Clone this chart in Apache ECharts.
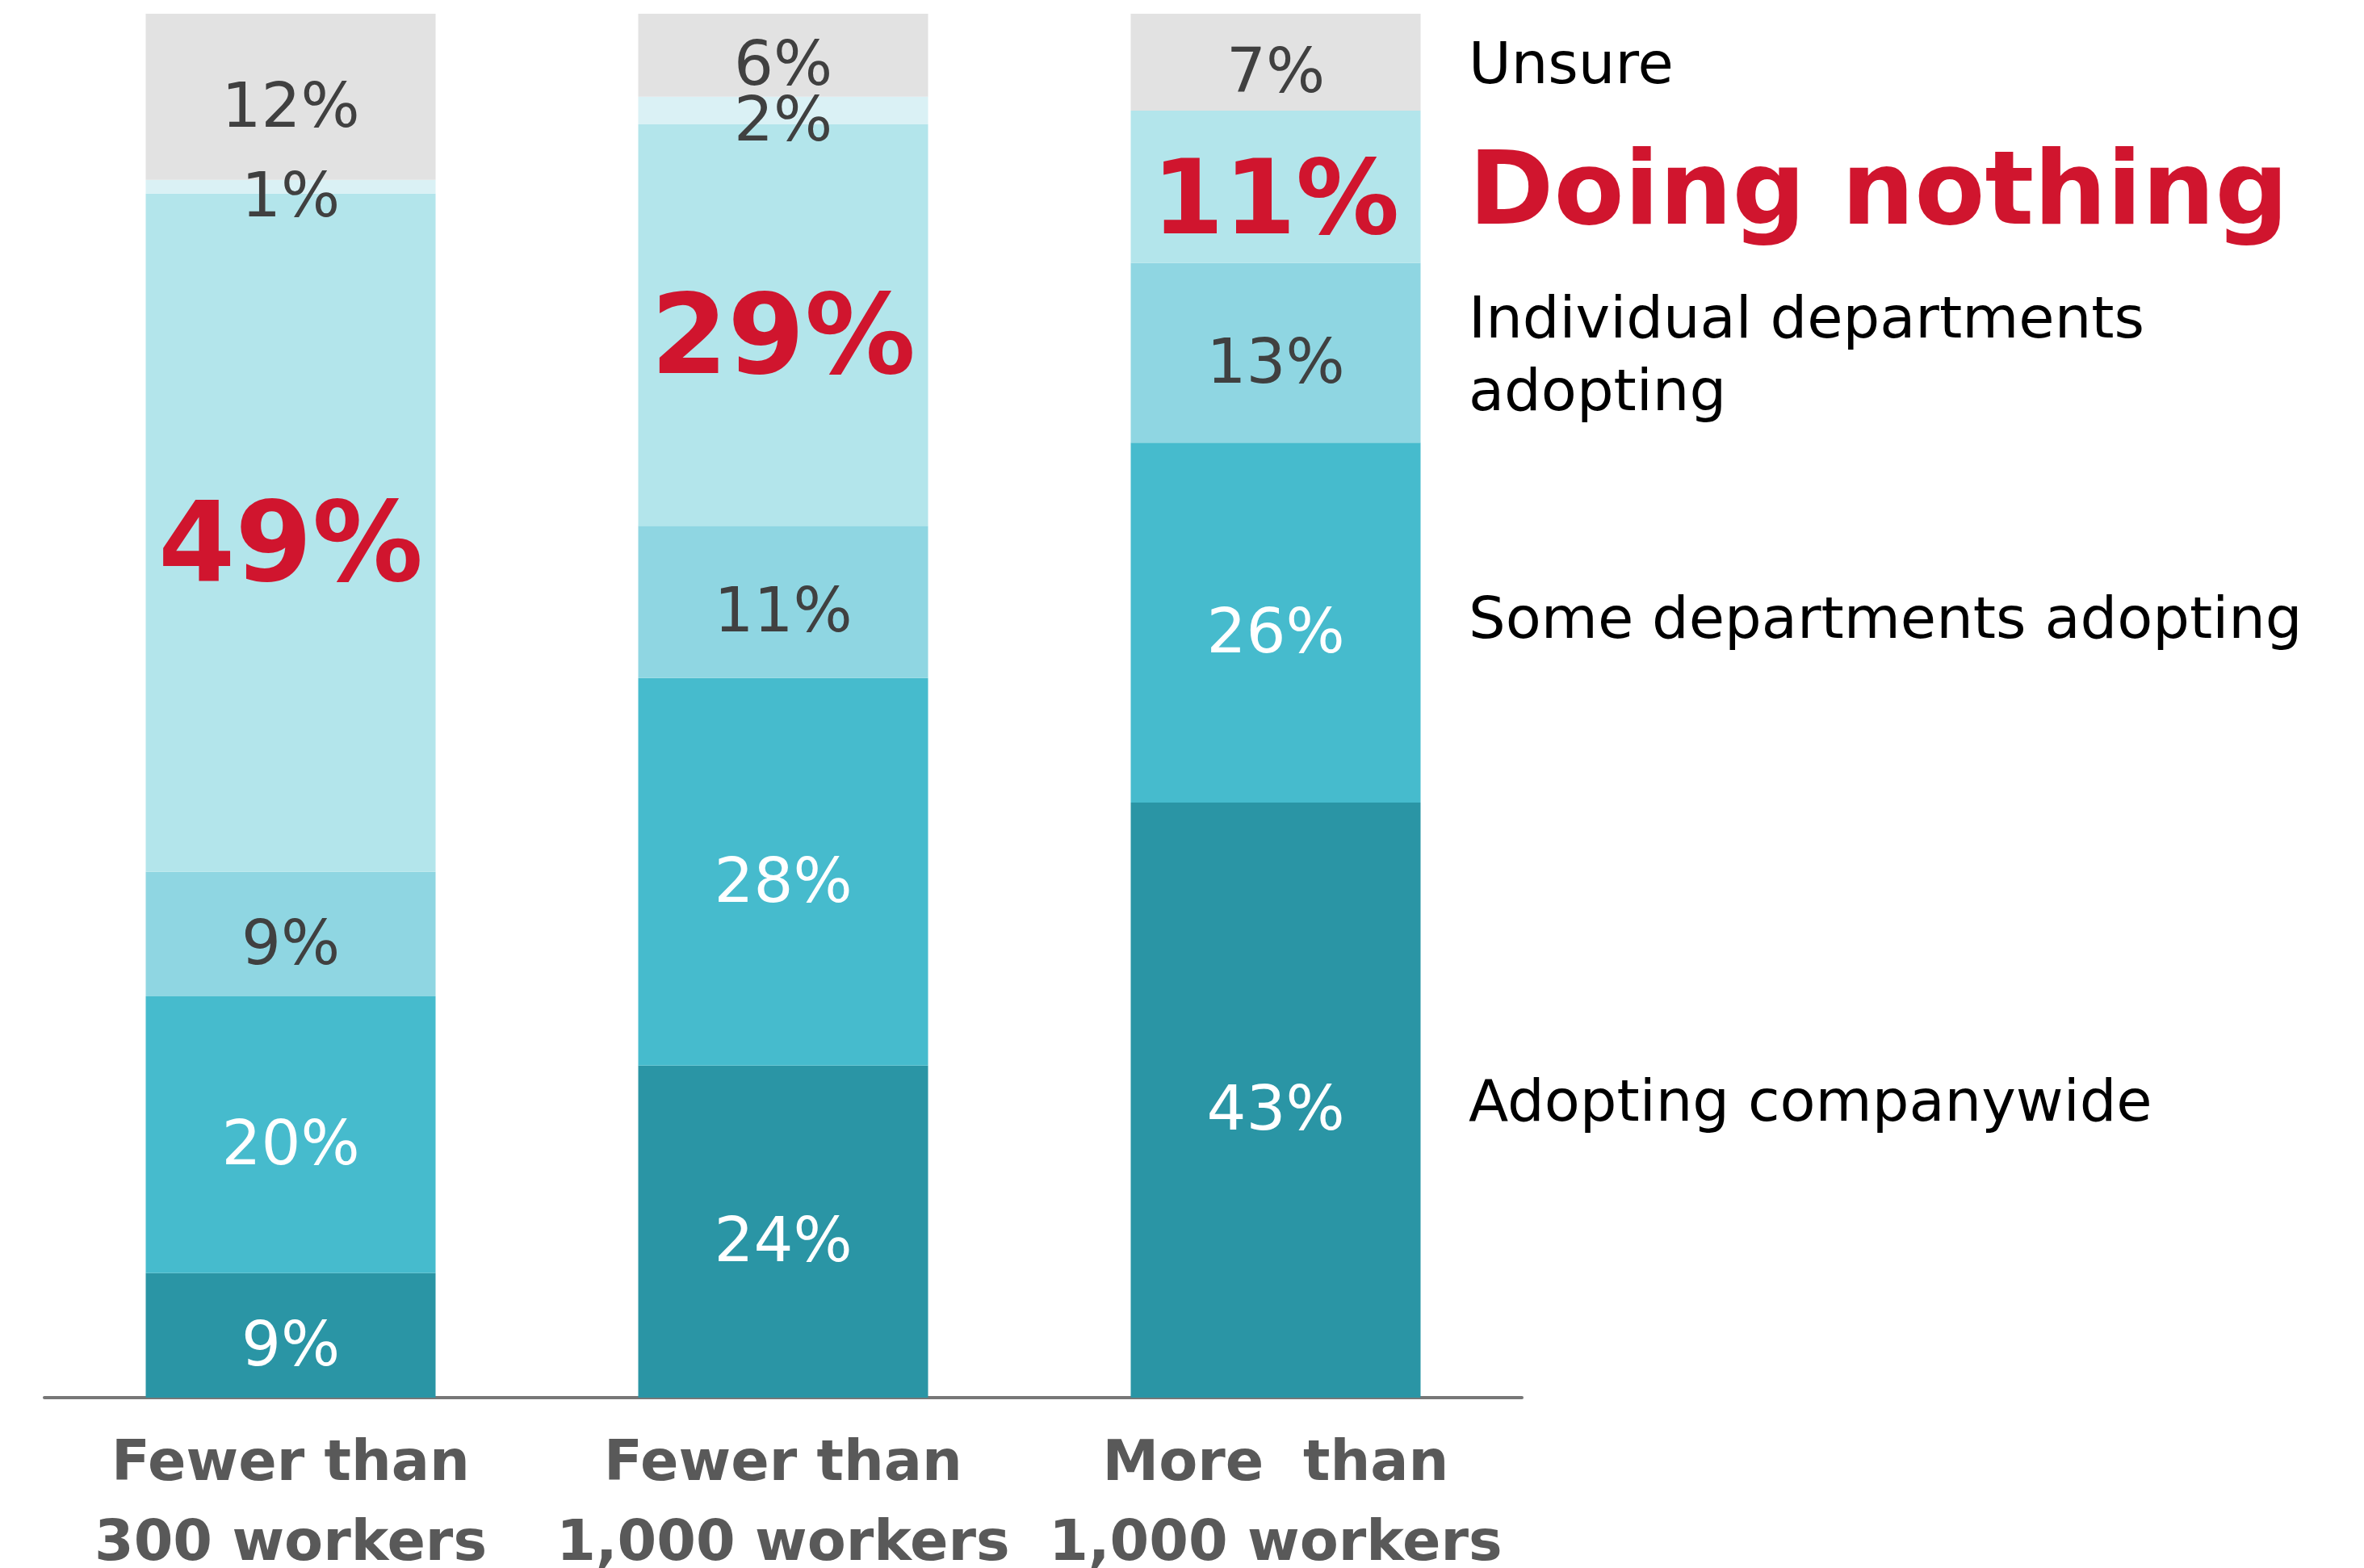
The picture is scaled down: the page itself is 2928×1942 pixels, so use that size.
<!DOCTYPE html>
<html>
<head>
<meta charset="utf-8">
<script src="https://cdn.jsdelivr.net/npm/echarts@6/dist/echarts.min.js"></script>
<style>
html,body{margin:0;padding:0;background:#fff;}
#chart{width:2928px;height:1942px;}
</style>
</head>
<body>
<div id="chart"></div>
<script>
const categories = ['Fewer than\n300 workers', 'Fewer than\n1,000 workers', 'More  than\n1,000 workers'];
const seriesNames = ['Adopting companywide', 'Some departments adopting', 'Individual departments\nadopting', 'Doing nothing', '', 'Unsure'];
const adoptingCompanywide = [9, 24, 43];
const someDepartments = [20, 28, 26];
const individualDepartments = [9, 11, 13];
const doingNothing = [49, 29, 11];
const otherSliver = [1, 2, 0];
const unsure = [12, 6, 7];

const allValues = [adoptingCompanywide, someDepartments, individualDepartments, doingNothing, otherSliver, unsure];
const colors = ['#2A95A5', '#46BBCD', '#8FD6E2', '#B3E5EB', '#DAF1F5', '#E2E2E2'];
const labelColors = ['#ffffff', '#ffffff', '#404040', '#D0152E', '#404040', '#404040'];
const FONT = '"DejaVu Sans", Verdana, sans-serif';
const redSizes = [137, 137, 128];

const series = allValues.map((vals, si) => {
  const isRed = si === 3;
  let before = 0;
  for (let k = 0; k < si; k++) before += allValues[k][2];
  const mid = before + vals[2] / 2;
  const s = {
    name: seriesNames[si] || 'other',
    type: 'bar',
    stack: 'total',
    barWidth: 359,
    itemStyle: { color: colors[si] },
    data: vals.map((v, ci) => {
      const item = { value: v };
      if (isRed) {
        item.label = { fontSize: redSizes[ci] };
      }
      return item;
    }),
    label: {
      show: true,
      position: 'inside',
      formatter: p => (p.value > 0 ? p.value + '%' : ''),
      color: labelColors[si],
      fontFamily: FONT,
      fontSize: 77,
      fontWeight: isRed ? 'bold' : 'normal',
      offset: [0, isRed ? 24 : 17]
    },
    emphasis: { disabled: true },
    silent: true
  };
  if (seriesNames[si]) {
    s.markPoint = {
      symbol: 'circle',
      symbolSize: 0,
      silent: true,
      data: [{ coord: [2, mid] }],
      label: {
        show: true,
        position: [239, isRed ? 13 : (si === 1 ? 0 : 7)],
        align: 'left',
        verticalAlign: 'middle',
        formatter: seriesNames[si],
        color: isRed ? '#D0152E' : '#000000',
        fontFamily: FONT,
        fontSize: isRed ? 127 : 72,
        fontWeight: isRed ? 'bold' : 'normal',
        lineHeight: isRed ? 140 : 90
      }
    };
  }
  return s;
});

const chart = echarts.init(document.getElementById('chart'), null, { renderer: 'canvas' });
chart.setOption({
  animation: false,
  backgroundColor: '#ffffff',
  grid: { left: 55, right: 1043, top: 17, bottom: 211, containLabel: false, outerBoundsMode: 'none' },
  xAxis: {
    type: 'category',
    data: categories,
    axisLine: { show: true, lineStyle: { color: '#777777', width: 4 } },
    axisTick: { show: false },
    axisLabel: {
      color: '#595959',
      fontFamily: FONT,
      fontWeight: 'bold',
      fontSize: 70,
      lineHeight: 99,
      margin: 34,
      interval: 0
    }
  },
  yAxis: {
    type: 'value',
    min: 0,
    max: 100,
    show: false,
    splitLine: { show: false }
  },
  series: series
});
</script>
</body>
</html>
